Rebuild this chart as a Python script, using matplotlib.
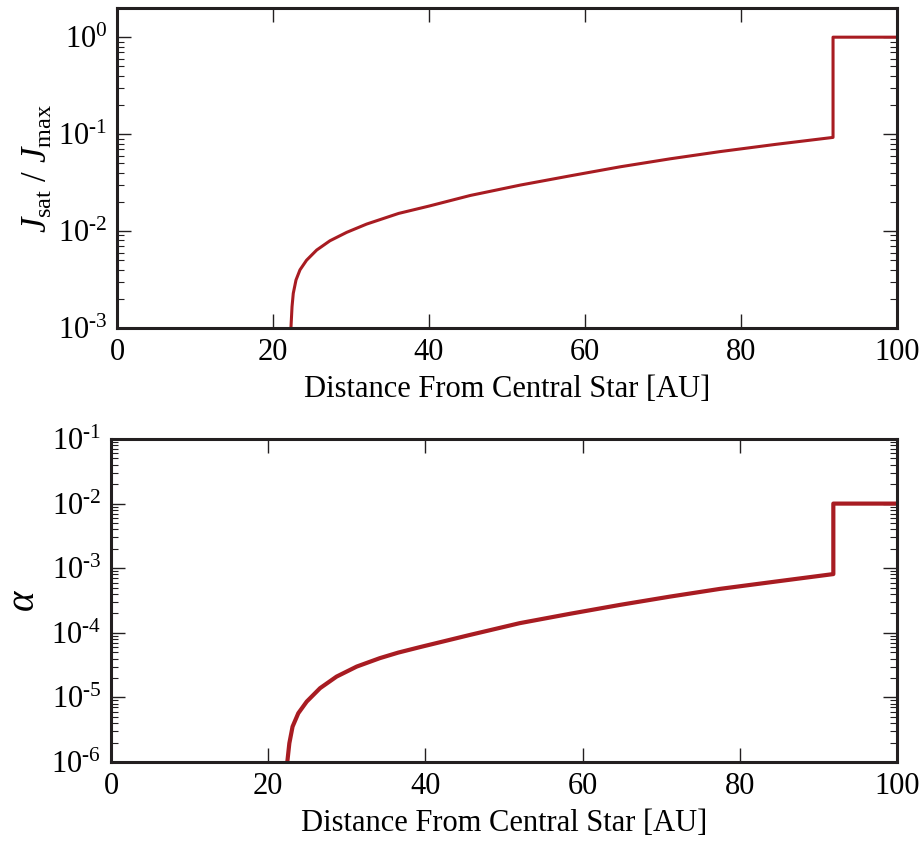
import math
import matplotlib
matplotlib.use('Agg')
import matplotlib.pyplot as plt
from matplotlib.ticker import FixedLocator, LogLocator, FuncFormatter, NullLocator

# Values
r_top = [22.2, 22.3, 22.44, 22.6, 22.95, 23.46, 24.3, 25.6, 27.3, 29.45, 32.0,
         36.1, 40.0, 45.3, 51.7, 58.0, 64.5, 70.9, 77.3, 84.5, 91.8, 91.8, 100]
j_ratio = [3e-4, 1e-3, 1.66e-3, 2.28e-3, 3.13e-3, 3.98e-3, 5.0e-3, 6.37e-3,
           7.94e-3, 9.7e-3, 0.0118, 0.0152, 0.0181, 0.0233, 0.0298, 0.037,
           0.046, 0.0556, 0.066, 0.0785, 0.0925, 1.0, 1.0]

r_bot = [22.35, 22.43, 22.69, 23.1, 23.83, 24.9, 26.6, 28.7, 31.26, 34.2, 36.55,
         39.3, 45.7, 52.0, 58.4, 64.8, 71.1, 77.5, 84.7, 91.9, 91.9, 100]
alpha = [5e-7, 1e-6, 1.95e-6, 3.53e-6, 5.69e-6, 8.61e-6, 1.39e-5, 2.10e-5,
         3.0e-5, 4.05e-5, 4.94e-5, 6.0e-5, 9.29e-5, 1.41e-4, 1.97e-4,
         2.71e-4, 3.63e-4, 4.79e-4, 6.24e-4, 8.11e-4, 1.0e-2, 1.0e-2]

x_ticks = [0, 20, 40, 60, 80, 100]

plt.rcParams['font.family'] = 'Liberation Serif'
plt.rcParams['mathtext.fontset'] = 'custom'
plt.rcParams['mathtext.rm'] = 'Liberation Serif'
plt.rcParams['mathtext.it'] = 'Liberation Serif:italic'
plt.rcParams['font.size'] = 22

line_color = '#a81c22'
spine_color = '#231f20'


def exp_label(v, pos):
    e = int(round(math.log10(v)))
    if e < 0:
        return r'$\mathregular{10^{\text{-}%d}}$' % -e
    return r'$\mathregular{10^{%d}}$' % e


def style_axis(ax):
    for s in ax.spines.values():
        s.set_linewidth(2.2)
        s.set_color(spine_color)
    ax.set_xlim(0, 100)
    ax.xaxis.set_major_locator(FixedLocator(x_ticks))
    ax.xaxis.set_minor_locator(NullLocator())
    ax.yaxis.set_major_locator(LogLocator(base=10))
    ax.yaxis.set_minor_locator(LogLocator(base=10, subs=range(2, 10), numticks=20))
    ax.yaxis.set_major_formatter(FuncFormatter(exp_label))
    ax.tick_params(which='both', direction='in', top=True, right=True,
                   color=spine_color, labelsize=22)
    ax.tick_params(which='major', length=10, width=1.0, pad=7)
    ax.tick_params(which='minor', length=5, width=0.8)


fig = plt.figure(figsize=(9.23, 8.41), dpi=100)

ax1 = fig.add_axes([117 / 923, 1 - 328 / 841, 780 / 923, 320 / 841])
ax1.plot(r_top, j_ratio, color=line_color, lw=2.2)
ax1.set_yscale('log')
ax1.set_ylim(1e-3, 2.0)
style_axis(ax1)
ax1.set_xlabel('Distance From Central Star [AU]', fontsize=22, labelpad=6)
ax1.set_ylabel(r'$J_{\mathrm{sat}}$ / $J_{\mathrm{max}}$', fontsize=25, labelpad=2)

ax2 = fig.add_axes([111 / 923, 1 - 762 / 841, 786 / 923, 323 / 841])
ax2.plot(r_bot, alpha, color=line_color, lw=3.0)
ax2.set_yscale('log')
ax2.set_ylim(1e-6, 1e-1)
style_axis(ax2)
ax2.set_xlabel('Distance From Central Star [AU]', fontsize=22, labelpad=6)
ax2.set_ylabel(r'$\alpha$', fontsize=28, labelpad=6)

fig.savefig('out.png', dpi=100)
